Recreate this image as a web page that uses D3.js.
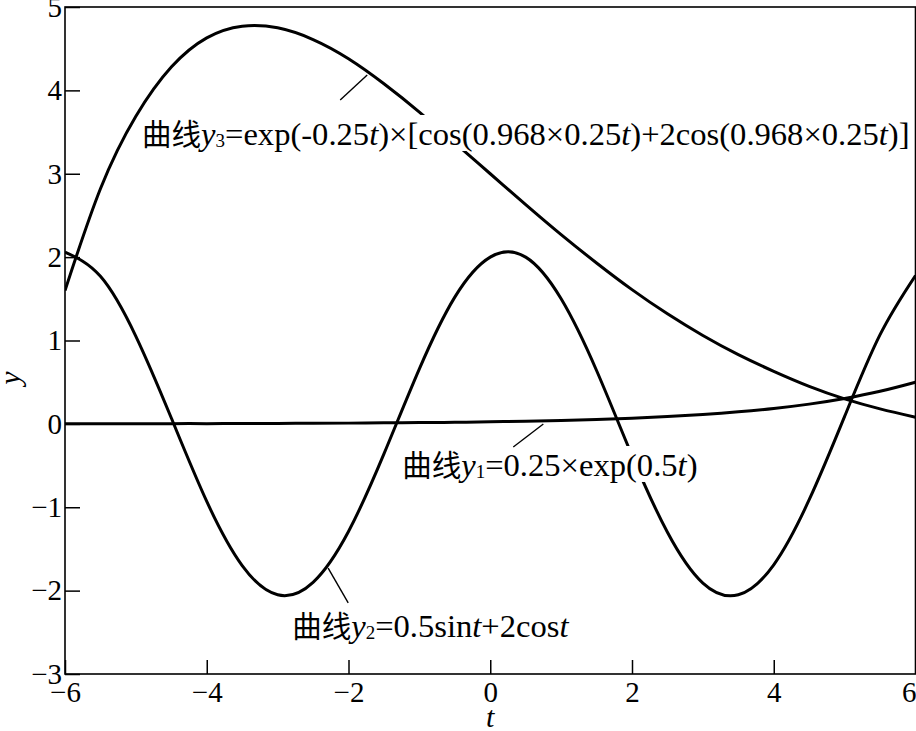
<!DOCTYPE html>
<html><head><meta charset="utf-8">
<script src="https://cdn.jsdelivr.net/npm/d3@7/dist/d3.min.js"></script>
<style>
html,body{margin:0;padding:0;background:#fff;}
svg{display:block;}
</style></head>
<body>
<svg id="chart" width="916" height="731"></svg>
<script>
// ---- data ----
const tValues = [-6,-5.5,-5,-4.5,-4,-3.5,-3,-2.5,-2,-1.5,-1,-0.5,0,0.5,1,1.5,2,2.5,3,3.5,4,4.5,5,5.5,6];
const y1Values = [0.001,0.002,0.002,0.003,0.003,0.004,0.006,0.007,0.009,0.012,0.015,0.019,0.025,0.032,0.041,0.053,0.068,0.087,0.112,0.144,0.185,0.237,0.305,0.391,0.50];
const y2Values = [2.06,1.77,1.05,0.07,-0.93,-1.70,-2.05,-1.90,-1.29,-0.36,0.66,1.52,2.00,2.00,1.50,0.64,-0.38,-1.30,-1.91,-2.05,-1.69,-0.91,0.09,1.07,1.78];
const y3Values = [1.60,2.82,3.69,4.28,4.63,4.77,4.75,4.61,4.38,4.08,3.74,3.37,3.00,2.63,2.27,1.93,1.61,1.32,1.06,0.83,0.63,0.45,0.30,0.18,0.08];
const xTicks = [-6,-4,-2,0,2,4,6];
const yTicks = [-3,-2,-1,0,1,2,3,4,5];
const xTitle = "t";
const yTitle = "y";
// label texts as segments: [text, style]
const label3 = [["曲线","cjk"],["y","it"],["3","sub"],["=exp(-0.25",""],["t","it"],[")×[cos(0.968×0.25",""],["t","it"],[")+2cos(0.968×0.25",""],["t","it"],[")]",""]];
const label1 = [["曲线","cjk"],["y","it"],["1","sub"],["=0.25×exp(0.5",""],["t","it"],[")",""]];
const label2 = [["曲线","cjk"],["y","it"],["2","sub"],["=0.5sin",""],["t","it"],["+2cos",""],["t","it"]];
// annotation anchors in data units: label start (t, y baseline), leader line from/to
const annotations = [
  {segs: label3, t: -4.913, y: 3.345, lead: [[-2.117, 3.885], [-1.736, 4.184]]},
  {segs: label1, t: -1.242, y: -0.625, lead: [[0.325, -0.277], [0.749, -0.001]]},
  {segs: label2, t: -2.795, y: -2.556, lead: [[-2.004, -2.148], [-2.287, -1.729]]}
];

// ---- layout ----
const W = 916, H = 731;
const m = {left: 65, right: 0.5, top: 7, bottom: 57};
const svg = d3.select("#chart");
const x = d3.scaleLinear().domain([-6, 6]).range([m.left, W - m.right]);
const y = d3.scaleLinear().domain([-3, 5]).range([H - m.bottom, m.top]);
const serif = "'Liberation Serif','Times New Roman',serif";
const cjk = "'Noto Sans CJK SC','Noto Sans CJK JP',sans-serif";
const fmt = d => d < 0 ? "\u2212" + Math.abs(d) : String(d);

// axes
const gx = svg.append("g").attr("transform", `translate(0,${y(-3)})`)
  .call(d3.axisBottom(x).tickValues(xTicks).tickSizeInner(-14).tickSizeOuter(0).tickPadding(7).tickFormat(fmt));
const gy = svg.append("g").attr("transform", `translate(${x(-6)},0)`)
  .call(d3.axisLeft(y).tickValues(yTicks).tickSizeInner(-15).tickSizeOuter(0).tickPadding(3).tickFormat(fmt));
[gx, gy].forEach(g => {
  g.select(".domain").remove();
  g.selectAll(".tick line").attr("stroke", "#000").attr("stroke-width", 1.5);
  g.selectAll(".tick text").attr("fill", "#000").style("font-family", serif).style("font-size", "29px");
});
// keep the last x label inside the picture
gx.selectAll(".tick").filter(d => d === 6).select("text").attr("text-anchor", "end").attr("x", 0.5);

// frame
svg.append("rect").attr("x", x(-6)).attr("y", y(5))
  .attr("width", x(6) - x(-6)).attr("height", y(-3) - y(5))
  .attr("fill", "none").attr("stroke", "#000").attr("stroke-width", 1.6);

// curves
const clipId = "plotclip";
svg.append("clipPath").attr("id", clipId).append("rect")
  .attr("x", x(-6)).attr("y", y(5)).attr("width", x(6) - x(-6)).attr("height", y(-3) - y(5));
const line = d3.line().x(d => x(d[0])).y(d => y(d[1])).curve(d3.curveNatural);
const curves = svg.append("g").attr("clip-path", `url(#${clipId})`);
[y1Values, y2Values, y3Values].forEach(vals => {
  curves.append("path").datum(tValues.map((t, i) => [t, vals[i]]))
    .attr("d", line).attr("fill", "none").attr("stroke", "#000")
    .attr("stroke-width", 3).attr("stroke-linejoin", "round");
});

// annotations
annotations.forEach(a => {
  const g = svg.append("g");
  const bg = g.append("rect").attr("fill", "#fff");
  const txt = g.append("text").attr("x", x(a.t)).attr("y", y(a.y))
    .style("font-family", serif).style("font-size", "32.6px").attr("fill", "#000");
  let lowered = false;
  a.segs.forEach(([s, st]) => {
    const ts = txt.append("tspan").text(s);
    if (st === "cjk") ts.style("font-family", cjk).style("font-size", "29.5px");
    if (st === "it") ts.style("font-style", "italic");
    if (st === "sub") { ts.style("font-size", "19px").attr("dy", 2); lowered = true; }
    else if (lowered) { ts.attr("dy", -2); lowered = false; }
  });
  const bb = txt.node().getBBox();
  bg.attr("x", bb.x).attr("y", bb.y + 4).attr("width", bb.width).attr("height", bb.height - 6);
  svg.append("line")
    .attr("x1", x(a.lead[0][0])).attr("y1", y(a.lead[0][1]))
    .attr("x2", x(a.lead[1][0])).attr("y2", y(a.lead[1][1]))
    .attr("stroke", "#000").attr("stroke-width", 1.4);
});

// axis titles
svg.append("text").attr("x", x(0)).attr("y", 727).attr("text-anchor", "middle")
  .style("font-family", serif).style("font-style", "italic").style("font-size", "30px").text(xTitle);
svg.append("text").attr("transform", `translate(20,${y(0.55)}) rotate(-90)`).attr("text-anchor", "middle")
  .style("font-family", serif).style("font-style", "italic").style("font-size", "30px").text(yTitle);
</script>
</body></html>
